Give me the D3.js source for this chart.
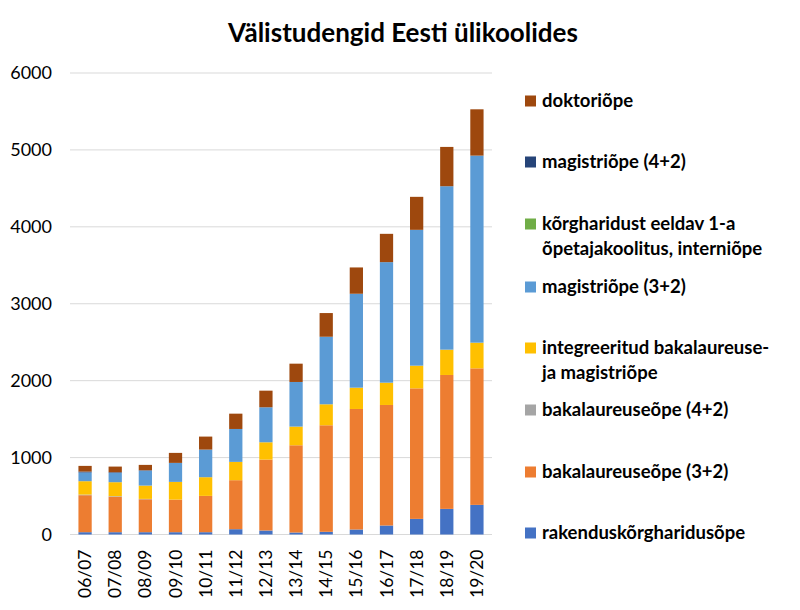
<!DOCTYPE html>
<html>
<head>
<meta charset="utf-8">
<script src="https://cdn.jsdelivr.net/npm/d3@7"></script>
<style>
  body { margin: 0; background: #fff; }
  text { font-family: Lato, "Open Sans", sans-serif; }
</style>
</head>
<body>
<script>
// Data
const years = ["06/07","07/08","08/09","09/10","10/11","11/12","12/13","13/14","14/15","15/16","16/17","17/18","18/19","19/20"];
const seriesNames = [
  "rakenduskõrgharidusõpe",
  "bakalaureuseõpe (3+2)",
  "bakalaureuseõpe (4+2)",
  "integreeritud bakalaureuse- ja magistriõpe",
  "magistriõpe (3+2)",
  "kõrgharidust eeldav 1-a õpetajakoolitus, interniõpe",
  "magistriõpe (4+2)",
  "doktoriõpe"
];
const rakendus = [30, 30, 30, 30, 30, 69, 52, 26, 35, 65, 117, 203, 333, 385];
const bak32    = [481, 460, 428, 424, 472, 637, 922, 1134, 1385, 1567, 1567, 1697, 1741, 1775];
const bak42    = [8, 8, 5, 0, 0, 0, 0, 0, 0, 0, 0, 0, 0, 0];
const integ    = [174, 182, 173, 230, 243, 238, 225, 243, 273, 277, 290, 295, 329, 334];
const mag32    = [113, 122, 194, 247, 359, 428, 455, 580, 878, 1221, 1567, 1766, 2125, 2432];
const oppetaja = [0, 0, 0, 0, 0, 0, 0, 0, 0, 0, 0, 0, 0, 0];
const mag42    = [12, 8, 5, 0, 0, 0, 0, 0, 0, 0, 0, 0, 0, 0];
const doktor   = [74, 73, 70, 130, 169, 199, 216, 238, 308, 342, 368, 429, 511, 602];
const yTicks = [0, 1000, 2000, 3000, 4000, 5000, 6000];

const colors = ["#4472C4", "#ED7D31", "#A5A5A5", "#FFC000", "#5B9BD5", "#70AD47", "#264478", "#9E480E"];
const allSeries = [rakendus, bak32, bak42, integ, mag32, oppetaja, mag42, doktor];

const rows = years.map((y, i) => {
  const r = { year: y };
  seriesNames.forEach((n, k) => r[n] = allSeries[k][i]);
  return r;
});

const width = 800, height = 610;
const svg = d3.select("body").append("svg")
  .attr("width", width).attr("height", height);

const x = d3.scaleBand().domain(years).range([70, 492]).paddingInner(0.56).paddingOuter(0.28);
const y = d3.scaleLinear().domain([0, 6000]).range([534.5, 73]);

// Title
svg.append("text")
  .attr("x", 403).attr("y", 42)
  .attr("text-anchor", "middle")
  .style("font-size", "26px").style("font-weight", "bold")
  .text("Välistudengid Eesti ülikoolides");

// Grid
svg.append("g").selectAll("line")
  .data(yTicks)
  .join("line")
  .attr("x1", 70).attr("x2", 492)
  .attr("y1", d => y(d)).attr("y2", d => y(d))
  .attr("stroke", "#d9d9d9").attr("stroke-width", 1);

// Y axis
const yAxis = svg.append("g")
  .attr("transform", "translate(70,0)")
  .call(d3.axisLeft(y).tickValues(yTicks).tickFormat(d3.format("d")).tickSize(0).tickPadding(18));
yAxis.select(".domain").remove();
yAxis.selectAll("text").style("font-size", "18px").style("font-family", "Lato").attr("fill", "#000");

// Bars
const stack = d3.stack().keys(seriesNames)(rows);
svg.append("g").selectAll("g")
  .data(stack)
  .join("g")
  .attr("fill", (d, i) => colors[i])
  .selectAll("rect")
  .data(d => d)
  .join("rect")
  .attr("x", d => x(d.data.year))
  .attr("width", x.bandwidth())
  .attr("y", d => y(d[1]))
  .attr("height", d => y(d[0]) - y(d[1]));

// X axis labels
const xAxis = svg.append("g")
  .attr("transform", `translate(0,${y(0)})`)
  .call(d3.axisBottom(x).tickSize(0).tickPadding(0));
xAxis.select(".domain").remove();
xAxis.selectAll("text")
  .attr("transform", "rotate(-90)")
  .attr("text-anchor", "end")
  .attr("x", -15).attr("y", 0).attr("dy", "0.35em")
  .style("font-size", "17.5px").style("font-family", "Lato").attr("fill", "#000");

// Legend
const legendItems = [
  { k: 7, lines: ["doktoriõpe"], y: 101 },
  { k: 6, lines: ["magistriõpe (4+2)"], y: 162 },
  { k: 5, lines: ["kõrgharidust eeldav 1-a", "õpetajakoolitus, interniõpe"], y: 224 },
  { k: 4, lines: ["magistriõpe (3+2)"], y: 287 },
  { k: 3, lines: ["integreeritud bakalaureuse-", "ja magistriõpe"], y: 348 },
  { k: 2, lines: ["bakalaureuseõpe (4+2)"], y: 410 },
  { k: 1, lines: ["bakalaureuseõpe (3+2)"], y: 472 },
  { k: 0, lines: ["rakenduskõrgharidusõpe"], y: 533 }
];
const lg = svg.append("g").selectAll("g")
  .data(legendItems)
  .join("g")
  .attr("transform", d => `translate(525,${d.y})`);
lg.append("rect")
  .attr("x", 0).attr("y", -5.5).attr("width", 11).attr("height", 11)
  .attr("fill", d => colors[d.k]);
lg.append("text")
  .attr("x", 17)
  .style("font-size", "18.5px").style("font-weight", "bold")
  .each(function(d) {
    d3.select(this).selectAll("tspan")
      .data(d.lines)
      .join("tspan")
      .attr("x", 17)
      .attr("y", (t, i) => i * 25)
      .attr("dy", "0.35em")
      .text(t => t);
  });
</script>
</body>
</html>
